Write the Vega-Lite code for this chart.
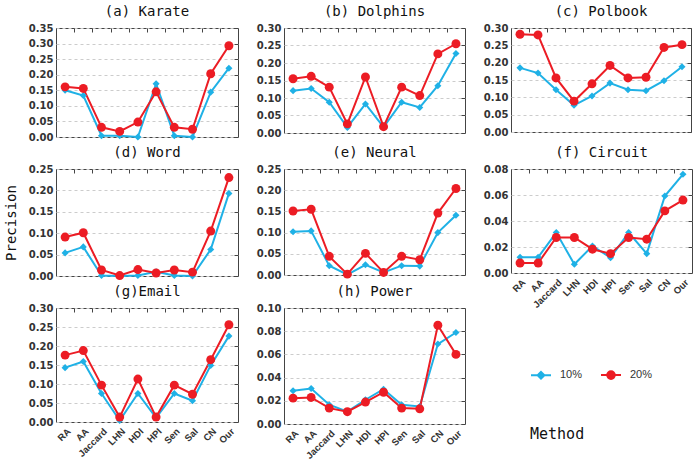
{
  "$schema": "https://vega.github.io/schema/vega-lite/v6.json",
  "padding": {"left": 3, "top": 4, "right": 5, "bottom": 2},
  "background": "white",
  "datasets": {
    "d": [
      {"net": "Karate", "series": "10%", "method": "RA", "value": 0.150},
      {"net": "Karate", "series": "10%", "method": "AA", "value": 0.133},
      {"net": "Karate", "series": "10%", "method": "Jaccard", "value": 0.004},
      {"net": "Karate", "series": "10%", "method": "LHN", "value": 0.004},
      {"net": "Karate", "series": "10%", "method": "HDI", "value": 0.0},
      {"net": "Karate", "series": "10%", "method": "HPI", "value": 0.171},
      {"net": "Karate", "series": "10%", "method": "Sen", "value": 0.004},
      {"net": "Karate", "series": "10%", "method": "Sal", "value": 0.0},
      {"net": "Karate", "series": "10%", "method": "CN", "value": 0.144},
      {"net": "Karate", "series": "10%", "method": "Our", "value": 0.221},
      {"net": "Karate", "series": "20%", "method": "RA", "value": 0.161},
      {"net": "Karate", "series": "20%", "method": "AA", "value": 0.156},
      {"net": "Karate", "series": "20%", "method": "Jaccard", "value": 0.031},
      {"net": "Karate", "series": "20%", "method": "LHN", "value": 0.018},
      {"net": "Karate", "series": "20%", "method": "HDI", "value": 0.048},
      {"net": "Karate", "series": "20%", "method": "HPI", "value": 0.145},
      {"net": "Karate", "series": "20%", "method": "Sen", "value": 0.031},
      {"net": "Karate", "series": "20%", "method": "Sal", "value": 0.025},
      {"net": "Karate", "series": "20%", "method": "CN", "value": 0.203},
      {"net": "Karate", "series": "20%", "method": "Our", "value": 0.293},

      {"net": "Dolphins", "series": "10%", "method": "RA", "value": 0.121},
      {"net": "Dolphins", "series": "10%", "method": "AA", "value": 0.127},
      {"net": "Dolphins", "series": "10%", "method": "Jaccard", "value": 0.088},
      {"net": "Dolphins", "series": "10%", "method": "LHN", "value": 0.016},
      {"net": "Dolphins", "series": "10%", "method": "HDI", "value": 0.083},
      {"net": "Dolphins", "series": "10%", "method": "HPI", "value": 0.017},
      {"net": "Dolphins", "series": "10%", "method": "Sen", "value": 0.088},
      {"net": "Dolphins", "series": "10%", "method": "Sal", "value": 0.073},
      {"net": "Dolphins", "series": "10%", "method": "CN", "value": 0.135},
      {"net": "Dolphins", "series": "10%", "method": "Our", "value": 0.227},
      {"net": "Dolphins", "series": "20%", "method": "RA", "value": 0.155},
      {"net": "Dolphins", "series": "20%", "method": "AA", "value": 0.162},
      {"net": "Dolphins", "series": "20%", "method": "Jaccard", "value": 0.131},
      {"net": "Dolphins", "series": "20%", "method": "LHN", "value": 0.026},
      {"net": "Dolphins", "series": "20%", "method": "HDI", "value": 0.160},
      {"net": "Dolphins", "series": "20%", "method": "HPI", "value": 0.018},
      {"net": "Dolphins", "series": "20%", "method": "Sen", "value": 0.131},
      {"net": "Dolphins", "series": "20%", "method": "Sal", "value": 0.107},
      {"net": "Dolphins", "series": "20%", "method": "CN", "value": 0.226},
      {"net": "Dolphins", "series": "20%", "method": "Our", "value": 0.255},

      {"net": "Polbook", "series": "10%", "method": "RA", "value": 0.185},
      {"net": "Polbook", "series": "10%", "method": "AA", "value": 0.170},
      {"net": "Polbook", "series": "10%", "method": "Jaccard", "value": 0.122},
      {"net": "Polbook", "series": "10%", "method": "LHN", "value": 0.077},
      {"net": "Polbook", "series": "10%", "method": "HDI", "value": 0.104},
      {"net": "Polbook", "series": "10%", "method": "HPI", "value": 0.141},
      {"net": "Polbook", "series": "10%", "method": "Sen", "value": 0.122},
      {"net": "Polbook", "series": "10%", "method": "Sal", "value": 0.119},
      {"net": "Polbook", "series": "10%", "method": "CN", "value": 0.148},
      {"net": "Polbook", "series": "10%", "method": "Our", "value": 0.188},
      {"net": "Polbook", "series": "20%", "method": "RA", "value": 0.282},
      {"net": "Polbook", "series": "20%", "method": "AA", "value": 0.280},
      {"net": "Polbook", "series": "20%", "method": "Jaccard", "value": 0.156},
      {"net": "Polbook", "series": "20%", "method": "LHN", "value": 0.089},
      {"net": "Polbook", "series": "20%", "method": "HDI", "value": 0.139},
      {"net": "Polbook", "series": "20%", "method": "HPI", "value": 0.192},
      {"net": "Polbook", "series": "20%", "method": "Sen", "value": 0.156},
      {"net": "Polbook", "series": "20%", "method": "Sal", "value": 0.158},
      {"net": "Polbook", "series": "20%", "method": "CN", "value": 0.244},
      {"net": "Polbook", "series": "20%", "method": "Our", "value": 0.252},

      {"net": "Word", "series": "10%", "method": "RA", "value": 0.054},
      {"net": "Word", "series": "10%", "method": "AA", "value": 0.068},
      {"net": "Word", "series": "10%", "method": "Jaccard", "value": 0.001},
      {"net": "Word", "series": "10%", "method": "LHN", "value": 0.0},
      {"net": "Word", "series": "10%", "method": "HDI", "value": 0.001},
      {"net": "Word", "series": "10%", "method": "HPI", "value": 0.010},
      {"net": "Word", "series": "10%", "method": "Sen", "value": 0.001},
      {"net": "Word", "series": "10%", "method": "Sal", "value": 0.0},
      {"net": "Word", "series": "10%", "method": "CN", "value": 0.062},
      {"net": "Word", "series": "10%", "method": "Our", "value": 0.193},
      {"net": "Word", "series": "20%", "method": "RA", "value": 0.091},
      {"net": "Word", "series": "20%", "method": "AA", "value": 0.101},
      {"net": "Word", "series": "20%", "method": "Jaccard", "value": 0.014},
      {"net": "Word", "series": "20%", "method": "LHN", "value": 0.001},
      {"net": "Word", "series": "20%", "method": "HDI", "value": 0.015},
      {"net": "Word", "series": "20%", "method": "HPI", "value": 0.007},
      {"net": "Word", "series": "20%", "method": "Sen", "value": 0.014},
      {"net": "Word", "series": "20%", "method": "Sal", "value": 0.009},
      {"net": "Word", "series": "20%", "method": "CN", "value": 0.105},
      {"net": "Word", "series": "20%", "method": "Our", "value": 0.230},

      {"net": "Neural", "series": "10%", "method": "RA", "value": 0.102},
      {"net": "Neural", "series": "10%", "method": "AA", "value": 0.104},
      {"net": "Neural", "series": "10%", "method": "Jaccard", "value": 0.022},
      {"net": "Neural", "series": "10%", "method": "LHN", "value": 0.001},
      {"net": "Neural", "series": "10%", "method": "HDI", "value": 0.024},
      {"net": "Neural", "series": "10%", "method": "HPI", "value": 0.006},
      {"net": "Neural", "series": "10%", "method": "Sen", "value": 0.022},
      {"net": "Neural", "series": "10%", "method": "Sal", "value": 0.021},
      {"net": "Neural", "series": "10%", "method": "CN", "value": 0.100},
      {"net": "Neural", "series": "10%", "method": "Our", "value": 0.141},
      {"net": "Neural", "series": "20%", "method": "RA", "value": 0.151},
      {"net": "Neural", "series": "20%", "method": "AA", "value": 0.155},
      {"net": "Neural", "series": "20%", "method": "Jaccard", "value": 0.044},
      {"net": "Neural", "series": "20%", "method": "LHN", "value": 0.002},
      {"net": "Neural", "series": "20%", "method": "HDI", "value": 0.051},
      {"net": "Neural", "series": "20%", "method": "HPI", "value": 0.006},
      {"net": "Neural", "series": "20%", "method": "Sen", "value": 0.044},
      {"net": "Neural", "series": "20%", "method": "Sal", "value": 0.036},
      {"net": "Neural", "series": "20%", "method": "CN", "value": 0.146},
      {"net": "Neural", "series": "20%", "method": "Our", "value": 0.204},

      {"net": "Circuit", "series": "10%", "method": "RA", "value": 0.0121},
      {"net": "Circuit", "series": "10%", "method": "AA", "value": 0.0121},
      {"net": "Circuit", "series": "10%", "method": "Jaccard", "value": 0.0311},
      {"net": "Circuit", "series": "10%", "method": "LHN", "value": 0.0067},
      {"net": "Circuit", "series": "10%", "method": "HDI", "value": 0.0208},
      {"net": "Circuit", "series": "10%", "method": "HPI", "value": 0.0118},
      {"net": "Circuit", "series": "10%", "method": "Sen", "value": 0.0311},
      {"net": "Circuit", "series": "10%", "method": "Sal", "value": 0.0149},
      {"net": "Circuit", "series": "10%", "method": "CN", "value": 0.0592},
      {"net": "Circuit", "series": "10%", "method": "Our", "value": 0.0759},
      {"net": "Circuit", "series": "20%", "method": "RA", "value": 0.0077},
      {"net": "Circuit", "series": "20%", "method": "AA", "value": 0.0077},
      {"net": "Circuit", "series": "20%", "method": "Jaccard", "value": 0.0273},
      {"net": "Circuit", "series": "20%", "method": "LHN", "value": 0.0273},
      {"net": "Circuit", "series": "20%", "method": "HDI", "value": 0.0183},
      {"net": "Circuit", "series": "20%", "method": "HPI", "value": 0.0149},
      {"net": "Circuit", "series": "20%", "method": "Sen", "value": 0.0273},
      {"net": "Circuit", "series": "20%", "method": "Sal", "value": 0.0260},
      {"net": "Circuit", "series": "20%", "method": "CN", "value": 0.0478},
      {"net": "Circuit", "series": "20%", "method": "Our", "value": 0.0561},

      {"net": "Email", "series": "10%", "method": "RA", "value": 0.143},
      {"net": "Email", "series": "10%", "method": "AA", "value": 0.159},
      {"net": "Email", "series": "10%", "method": "Jaccard", "value": 0.075},
      {"net": "Email", "series": "10%", "method": "LHN", "value": 0.004},
      {"net": "Email", "series": "10%", "method": "HDI", "value": 0.075},
      {"net": "Email", "series": "10%", "method": "HPI", "value": 0.011},
      {"net": "Email", "series": "10%", "method": "Sen", "value": 0.075},
      {"net": "Email", "series": "10%", "method": "Sal", "value": 0.056},
      {"net": "Email", "series": "10%", "method": "CN", "value": 0.149},
      {"net": "Email", "series": "10%", "method": "Our", "value": 0.226},
      {"net": "Email", "series": "20%", "method": "RA", "value": 0.176},
      {"net": "Email", "series": "20%", "method": "AA", "value": 0.188},
      {"net": "Email", "series": "20%", "method": "Jaccard", "value": 0.097},
      {"net": "Email", "series": "20%", "method": "LHN", "value": 0.013},
      {"net": "Email", "series": "20%", "method": "HDI", "value": 0.113},
      {"net": "Email", "series": "20%", "method": "HPI", "value": 0.013},
      {"net": "Email", "series": "20%", "method": "Sen", "value": 0.097},
      {"net": "Email", "series": "20%", "method": "Sal", "value": 0.073},
      {"net": "Email", "series": "20%", "method": "CN", "value": 0.164},
      {"net": "Email", "series": "20%", "method": "Our", "value": 0.256},

      {"net": "Power", "series": "10%", "method": "RA", "value": 0.0286},
      {"net": "Power", "series": "10%", "method": "AA", "value": 0.0306},
      {"net": "Power", "series": "10%", "method": "Jaccard", "value": 0.0166},
      {"net": "Power", "series": "10%", "method": "LHN", "value": 0.0106},
      {"net": "Power", "series": "10%", "method": "HDI", "value": 0.0209},
      {"net": "Power", "series": "10%", "method": "HPI", "value": 0.0300},
      {"net": "Power", "series": "10%", "method": "Sen", "value": 0.0166},
      {"net": "Power", "series": "10%", "method": "Sal", "value": 0.0151},
      {"net": "Power", "series": "10%", "method": "CN", "value": 0.0689},
      {"net": "Power", "series": "10%", "method": "Our", "value": 0.0789},
      {"net": "Power", "series": "20%", "method": "RA", "value": 0.0223},
      {"net": "Power", "series": "20%", "method": "AA", "value": 0.0229},
      {"net": "Power", "series": "20%", "method": "Jaccard", "value": 0.0137},
      {"net": "Power", "series": "20%", "method": "LHN", "value": 0.0106},
      {"net": "Power", "series": "20%", "method": "HDI", "value": 0.0189},
      {"net": "Power", "series": "20%", "method": "HPI", "value": 0.0274},
      {"net": "Power", "series": "20%", "method": "Sen", "value": 0.0137},
      {"net": "Power", "series": "20%", "method": "Sal", "value": 0.0131},
      {"net": "Power", "series": "20%", "method": "CN", "value": 0.0851},
      {"net": "Power", "series": "20%", "method": "Our", "value": 0.0600}
    ]
  },
  "data": {"name": "d"},
  "columns": 3,
  "bounds": "flush",
  "spacing": {"row": 32, "column": 46},
  "concat": [
    {
      "width": 182, "height": 109, "title": "(a) Karate",
      "transform": [{"filter": "datum.net === 'Karate'"}],
      "encoding": {
        "x": {"field": "method", "type": "nominal", "sort": ["RA","AA","Jaccard","LHN","HDI","HPI","Sen","Sal","CN","Our"], "scale": {"type": "point", "padding": 0.5}},
        "y": {"field": "value", "type": "quantitative", "scale": {"domain": [0, 0.35]}}
      },
      "layer": [
        {"mark": {"type": "line", "strokeWidth": 2},
         "encoding": {
           "x": {"field": "method", "type": "nominal", "sort": ["RA","AA","Jaccard","LHN","HDI","HPI","Sen","Sal","CN","Our"], "axis": {"orient": "bottom", "labels": false, "title": null}},
           "y": {"field": "value", "type": "quantitative", "axis": {"values": [0,0.05,0.1,0.15,0.2,0.25,0.3,0.35], "format": ".2f", "title": null}},
           "color": {"field": "series", "type": "nominal", "title": "Method",
             "scale": {"domain": ["10%", "20%"], "range": ["#1fb1e6", "#ec1c24"]},
             "legend": {
               "encode": {"symbols": {"update": {
                 "shape": {"signal": "datum.value === '10%' ? 'M-1,0H1M0,-0.34L0.34,0L0,0.34L-0.34,0Z' : 'M-1,0H1M-0.38,0A0.38,0.38 0 1,1 0.38,0A0.38,0.38 0 1,1 -0.38,0Z'"},
                 "fill": {"signal": "scale('color', datum.value)"},
                 "stroke": {"signal": "scale('color', datum.value)"},
                 "strokeWidth": {"value": 2},
                 "opacity": {"value": 1}
               }}}
             }}
         }},
        {"transform": [{"filter": "datum.series === '10%'"}],
         "mark": {"type": "point", "filled": true, "opacity": 1, "shape": "diamond", "size": 50, "color": "#1fb1e6"},
         "encoding": {
           "x": {"field": "method", "type": "nominal", "sort": ["RA","AA","Jaccard","LHN","HDI","HPI","Sen","Sal","CN","Our"], "axis": {"orient": "top", "labels": false, "tickOffset": -9.1, "title": null}},
           "y": {"field": "value", "type": "quantitative", "axis": {"orient": "right", "values": [0,0.05,0.1,0.15,0.2,0.25,0.3,0.35], "labels": false, "title": null}}
         }},
        {"transform": [{"filter": "datum.series === '20%'"}],
         "mark": {"type": "point", "filled": true, "opacity": 1, "shape": "circle", "size": 80, "color": "#ec1c24"},
         "encoding": {
           "x": {"field": "method", "type": "nominal", "sort": ["RA","AA","Jaccard","LHN","HDI","HPI","Sen","Sal","CN","Our"], "axis": null},
           "y": {"field": "value", "type": "quantitative", "axis": null}
         }}
      ],
      "resolve": {"axis": {"x": "independent", "y": "independent"}}
    },
    {
      "width": 181, "height": 105, "title": "(b) Dolphins",
      "transform": [{"filter": "datum.net === 'Dolphins'"}],
      "encoding": {
        "x": {"field": "method", "type": "nominal", "sort": ["RA","AA","Jaccard","LHN","HDI","HPI","Sen","Sal","CN","Our"], "scale": {"type": "point", "padding": 0.5}},
        "y": {"field": "value", "type": "quantitative", "scale": {"domain": [0, 0.3]}}
      },
      "layer": [
        {"mark": {"type": "line", "strokeWidth": 2},
         "encoding": {
           "x": {"field": "method", "type": "nominal", "sort": ["RA","AA","Jaccard","LHN","HDI","HPI","Sen","Sal","CN","Our"], "axis": {"orient": "bottom", "labels": false, "title": null}},
           "y": {"field": "value", "type": "quantitative", "axis": {"values": [0,0.05,0.1,0.15,0.2,0.25,0.3], "format": ".2f", "title": null}},
           "color": {"field": "series", "type": "nominal", "title": "Method"}
         }},
        {"transform": [{"filter": "datum.series === '10%'"}],
         "mark": {"type": "point", "filled": true, "opacity": 1, "shape": "diamond", "size": 50, "color": "#1fb1e6"},
         "encoding": {
           "x": {"field": "method", "type": "nominal", "sort": ["RA","AA","Jaccard","LHN","HDI","HPI","Sen","Sal","CN","Our"], "axis": {"orient": "top", "labels": false, "tickOffset": -9.05, "title": null}},
           "y": {"field": "value", "type": "quantitative", "axis": {"orient": "right", "values": [0,0.05,0.1,0.15,0.2,0.25,0.3], "labels": false, "title": null}}
         }},
        {"transform": [{"filter": "datum.series === '20%'"}],
         "mark": {"type": "point", "filled": true, "opacity": 1, "shape": "circle", "size": 80, "color": "#ec1c24"},
         "encoding": {
           "x": {"field": "method", "type": "nominal", "sort": ["RA","AA","Jaccard","LHN","HDI","HPI","Sen","Sal","CN","Our"], "axis": null},
           "y": {"field": "value", "type": "quantitative", "axis": null}
         }}
      ],
      "resolve": {"axis": {"x": "independent", "y": "independent"}}
    },
    {
      "width": 180, "height": 104, "title": "(c) Polbook",
      "transform": [{"filter": "datum.net === 'Polbook'"}],
      "encoding": {
        "x": {"field": "method", "type": "nominal", "sort": ["RA","AA","Jaccard","LHN","HDI","HPI","Sen","Sal","CN","Our"], "scale": {"type": "point", "padding": 0.5}},
        "y": {"field": "value", "type": "quantitative", "scale": {"domain": [0, 0.3]}}
      },
      "layer": [
        {"mark": {"type": "line", "strokeWidth": 2},
         "encoding": {
           "x": {"field": "method", "type": "nominal", "sort": ["RA","AA","Jaccard","LHN","HDI","HPI","Sen","Sal","CN","Our"], "axis": {"orient": "bottom", "labels": false, "title": null}},
           "y": {"field": "value", "type": "quantitative", "axis": {"values": [0,0.05,0.1,0.15,0.2,0.25,0.3], "format": ".2f", "title": null}},
           "color": {"field": "series", "type": "nominal", "title": "Method"}
         }},
        {"transform": [{"filter": "datum.series === '10%'"}],
         "mark": {"type": "point", "filled": true, "opacity": 1, "shape": "diamond", "size": 50, "color": "#1fb1e6"},
         "encoding": {
           "x": {"field": "method", "type": "nominal", "sort": ["RA","AA","Jaccard","LHN","HDI","HPI","Sen","Sal","CN","Our"], "axis": {"orient": "top", "labels": false, "tickOffset": -9, "title": null}},
           "y": {"field": "value", "type": "quantitative", "axis": {"orient": "right", "values": [0,0.05,0.1,0.15,0.2,0.25,0.3], "labels": false, "title": null}}
         }},
        {"transform": [{"filter": "datum.series === '20%'"}],
         "mark": {"type": "point", "filled": true, "opacity": 1, "shape": "circle", "size": 80, "color": "#ec1c24"},
         "encoding": {
           "x": {"field": "method", "type": "nominal", "sort": ["RA","AA","Jaccard","LHN","HDI","HPI","Sen","Sal","CN","Our"], "axis": null},
           "y": {"field": "value", "type": "quantitative", "axis": null}
         }}
      ],
      "resolve": {"axis": {"x": "independent", "y": "independent"}}
    },
    {
      "width": 182, "height": 107, "title": "(d) Word",
      "transform": [{"filter": "datum.net === 'Word'"}],
      "encoding": {
        "x": {"field": "method", "type": "nominal", "sort": ["RA","AA","Jaccard","LHN","HDI","HPI","Sen","Sal","CN","Our"], "scale": {"type": "point", "padding": 0.5}},
        "y": {"field": "value", "type": "quantitative", "scale": {"domain": [0, 0.25]}}
      },
      "layer": [
        {"mark": {"type": "line", "strokeWidth": 2},
         "encoding": {
           "x": {"field": "method", "type": "nominal", "sort": ["RA","AA","Jaccard","LHN","HDI","HPI","Sen","Sal","CN","Our"], "axis": {"orient": "bottom", "labels": false, "title": null}},
           "y": {"field": "value", "type": "quantitative", "axis": {"values": [0,0.05,0.1,0.15,0.2,0.25], "format": ".2f", "title": "Precision"}},
           "color": {"field": "series", "type": "nominal", "title": "Method"}
         }},
        {"transform": [{"filter": "datum.series === '10%'"}],
         "mark": {"type": "point", "filled": true, "opacity": 1, "shape": "diamond", "size": 50, "color": "#1fb1e6"},
         "encoding": {
           "x": {"field": "method", "type": "nominal", "sort": ["RA","AA","Jaccard","LHN","HDI","HPI","Sen","Sal","CN","Our"], "axis": {"orient": "top", "labels": false, "tickOffset": -9.1, "title": null}},
           "y": {"field": "value", "type": "quantitative", "axis": {"orient": "right", "values": [0,0.05,0.1,0.15,0.2,0.25], "labels": false, "title": null}}
         }},
        {"transform": [{"filter": "datum.series === '20%'"}],
         "mark": {"type": "point", "filled": true, "opacity": 1, "shape": "circle", "size": 80, "color": "#ec1c24"},
         "encoding": {
           "x": {"field": "method", "type": "nominal", "sort": ["RA","AA","Jaccard","LHN","HDI","HPI","Sen","Sal","CN","Our"], "axis": null},
           "y": {"field": "value", "type": "quantitative", "axis": null}
         }}
      ],
      "resolve": {"axis": {"x": "independent", "y": "independent"}}
    },
    {
      "width": 181, "height": 106, "title": "(e) Neural",
      "transform": [{"filter": "datum.net === 'Neural'"}],
      "encoding": {
        "x": {"field": "method", "type": "nominal", "sort": ["RA","AA","Jaccard","LHN","HDI","HPI","Sen","Sal","CN","Our"], "scale": {"type": "point", "padding": 0.5}},
        "y": {"field": "value", "type": "quantitative", "scale": {"domain": [0, 0.25]}}
      },
      "layer": [
        {"mark": {"type": "line", "strokeWidth": 2},
         "encoding": {
           "x": {"field": "method", "type": "nominal", "sort": ["RA","AA","Jaccard","LHN","HDI","HPI","Sen","Sal","CN","Our"], "axis": {"orient": "bottom", "labels": false, "title": null}},
           "y": {"field": "value", "type": "quantitative", "axis": {"values": [0,0.05,0.1,0.15,0.2,0.25], "format": ".2f", "title": null}},
           "color": {"field": "series", "type": "nominal", "title": "Method"}
         }},
        {"transform": [{"filter": "datum.series === '10%'"}],
         "mark": {"type": "point", "filled": true, "opacity": 1, "shape": "diamond", "size": 50, "color": "#1fb1e6"},
         "encoding": {
           "x": {"field": "method", "type": "nominal", "sort": ["RA","AA","Jaccard","LHN","HDI","HPI","Sen","Sal","CN","Our"], "axis": {"orient": "top", "labels": false, "tickOffset": -9.05, "title": null}},
           "y": {"field": "value", "type": "quantitative", "axis": {"orient": "right", "values": [0,0.05,0.1,0.15,0.2,0.25], "labels": false, "title": null}}
         }},
        {"transform": [{"filter": "datum.series === '20%'"}],
         "mark": {"type": "point", "filled": true, "opacity": 1, "shape": "circle", "size": 80, "color": "#ec1c24"},
         "encoding": {
           "x": {"field": "method", "type": "nominal", "sort": ["RA","AA","Jaccard","LHN","HDI","HPI","Sen","Sal","CN","Our"], "axis": null},
           "y": {"field": "value", "type": "quantitative", "axis": null}
         }}
      ],
      "resolve": {"axis": {"x": "independent", "y": "independent"}}
    },
    {
      "width": 181, "height": 104, "title": "(f) Circuit",
      "transform": [{"filter": "datum.net === 'Circuit'"}],
      "encoding": {
        "x": {"field": "method", "type": "nominal", "sort": ["RA","AA","Jaccard","LHN","HDI","HPI","Sen","Sal","CN","Our"], "scale": {"type": "point", "padding": 0.5}},
        "y": {"field": "value", "type": "quantitative", "scale": {"domain": [0, 0.08]}}
      },
      "layer": [
        {"mark": {"type": "line", "strokeWidth": 2},
         "encoding": {
           "x": {"field": "method", "type": "nominal", "sort": ["RA","AA","Jaccard","LHN","HDI","HPI","Sen","Sal","CN","Our"], "axis": {"orient": "bottom", "labels": true, "title": null, "labelAngle": -45}},
           "y": {"field": "value", "type": "quantitative", "axis": {"values": [0,0.02,0.04,0.06,0.08], "format": ".2f", "title": null}},
           "color": {"field": "series", "type": "nominal", "title": "Method"}
         }},
        {"transform": [{"filter": "datum.series === '10%'"}],
         "mark": {"type": "point", "filled": true, "opacity": 1, "shape": "diamond", "size": 50, "color": "#1fb1e6"},
         "encoding": {
           "x": {"field": "method", "type": "nominal", "sort": ["RA","AA","Jaccard","LHN","HDI","HPI","Sen","Sal","CN","Our"], "axis": {"orient": "top", "labels": false, "tickOffset": -9.05, "title": null}},
           "y": {"field": "value", "type": "quantitative", "axis": {"orient": "right", "values": [0,0.02,0.04,0.06,0.08], "labels": false, "title": null}}
         }},
        {"transform": [{"filter": "datum.series === '20%'"}],
         "mark": {"type": "point", "filled": true, "opacity": 1, "shape": "circle", "size": 80, "color": "#ec1c24"},
         "encoding": {
           "x": {"field": "method", "type": "nominal", "sort": ["RA","AA","Jaccard","LHN","HDI","HPI","Sen","Sal","CN","Our"], "axis": null},
           "y": {"field": "value", "type": "quantitative", "axis": null}
         }}
      ],
      "resolve": {"axis": {"x": "independent", "y": "independent"}}
    },
    {
      "width": 182, "height": 114, "title": "(g)Email",
      "transform": [{"filter": "datum.net === 'Email'"}],
      "encoding": {
        "x": {"field": "method", "type": "nominal", "sort": ["RA","AA","Jaccard","LHN","HDI","HPI","Sen","Sal","CN","Our"], "scale": {"type": "point", "padding": 0.5}},
        "y": {"field": "value", "type": "quantitative", "scale": {"domain": [0, 0.3]}}
      },
      "layer": [
        {"mark": {"type": "line", "strokeWidth": 2},
         "encoding": {
           "x": {"field": "method", "type": "nominal", "sort": ["RA","AA","Jaccard","LHN","HDI","HPI","Sen","Sal","CN","Our"], "axis": {"orient": "bottom", "labels": true, "title": null, "labelAngle": -45}},
           "y": {"field": "value", "type": "quantitative", "axis": {"values": [0,0.05,0.1,0.15,0.2,0.25,0.3], "format": ".2f", "title": null}},
           "color": {"field": "series", "type": "nominal", "title": "Method"}
         }},
        {"transform": [{"filter": "datum.series === '10%'"}],
         "mark": {"type": "point", "filled": true, "opacity": 1, "shape": "diamond", "size": 50, "color": "#1fb1e6"},
         "encoding": {
           "x": {"field": "method", "type": "nominal", "sort": ["RA","AA","Jaccard","LHN","HDI","HPI","Sen","Sal","CN","Our"], "axis": {"orient": "top", "labels": false, "tickOffset": -9.1, "title": null}},
           "y": {"field": "value", "type": "quantitative", "axis": {"orient": "right", "values": [0,0.05,0.1,0.15,0.2,0.25,0.3], "labels": false, "title": null}}
         }},
        {"transform": [{"filter": "datum.series === '20%'"}],
         "mark": {"type": "point", "filled": true, "opacity": 1, "shape": "circle", "size": 80, "color": "#ec1c24"},
         "encoding": {
           "x": {"field": "method", "type": "nominal", "sort": ["RA","AA","Jaccard","LHN","HDI","HPI","Sen","Sal","CN","Our"], "axis": null},
           "y": {"field": "value", "type": "quantitative", "axis": null}
         }}
      ],
      "resolve": {"axis": {"x": "independent", "y": "independent"}}
    },
    {
      "width": 181, "height": 116, "title": "(h)  Power",
      "transform": [{"filter": "datum.net === 'Power'"}],
      "encoding": {
        "x": {"field": "method", "type": "nominal", "sort": ["RA","AA","Jaccard","LHN","HDI","HPI","Sen","Sal","CN","Our"], "scale": {"type": "point", "padding": 0.5}},
        "y": {"field": "value", "type": "quantitative", "scale": {"domain": [0, 0.1]}}
      },
      "layer": [
        {"mark": {"type": "line", "strokeWidth": 2},
         "encoding": {
           "x": {"field": "method", "type": "nominal", "sort": ["RA","AA","Jaccard","LHN","HDI","HPI","Sen","Sal","CN","Our"], "axis": {"orient": "bottom", "labels": true, "title": null, "labelAngle": -45}},
           "y": {"field": "value", "type": "quantitative", "axis": {"values": [0,0.02,0.04,0.06,0.08,0.1], "format": ".2f", "title": null}},
           "color": {"field": "series", "type": "nominal", "title": "Method"}
         }},
        {"transform": [{"filter": "datum.series === '10%'"}],
         "mark": {"type": "point", "filled": true, "opacity": 1, "shape": "diamond", "size": 50, "color": "#1fb1e6"},
         "encoding": {
           "x": {"field": "method", "type": "nominal", "sort": ["RA","AA","Jaccard","LHN","HDI","HPI","Sen","Sal","CN","Our"], "axis": {"orient": "top", "labels": false, "tickOffset": -9.05, "title": null}},
           "y": {"field": "value", "type": "quantitative", "axis": {"orient": "right", "values": [0,0.02,0.04,0.06,0.08,0.1], "labels": false, "title": null}}
         }},
        {"transform": [{"filter": "datum.series === '20%'"}],
         "mark": {"type": "point", "filled": true, "opacity": 1, "shape": "circle", "size": 80, "color": "#ec1c24"},
         "encoding": {
           "x": {"field": "method", "type": "nominal", "sort": ["RA","AA","Jaccard","LHN","HDI","HPI","Sen","Sal","CN","Our"], "axis": null},
           "y": {"field": "value", "type": "quantitative", "axis": null}
         }}
      ],
      "resolve": {"axis": {"x": "independent", "y": "independent"}}
    }
  ],
  "config": {
    "view": {"stroke": "#444444", "strokeWidth": 1},
    "title": {"font": "DejaVu Sans Mono", "fontSize": 14, "fontWeight": "normal", "color": "#111111", "offset": 4},
    "axis": {
      "labelFont": "DejaVu Sans", "labelFontSize": 10, "labelFontWeight": "bold", "labelColor": "#333333",
      "gridColor": "#cccccc", "gridDash": [3, 3], "gridWidth": 1,
      "tickColor": "#444444", "ticks": false, "domain": false, "labelPadding": 3,
      "titleFont": "DejaVu Sans Mono", "titleFontSize": 14, "titleFontWeight": "normal", "titleColor": "#111111", "titlePadding": 10
    },
    "axisBottom": {"labelFont": "Liberation Sans", "labelFontSize": 9.5, "labelPadding": 4},
    "axisRight": {"ticks": true, "tickSize": -4, "grid": false, "labelPadding": 0},
    "axisTop": {"ticks": true, "tickSize": -4, "grid": false, "labelPadding": 0},
    "legend": {
      "orient": "none", "legendX": 474, "legendY": 336, "direction": "horizontal",
      "titleOrient": "bottom", "titleAnchor": "start", "titlePadding": 44,
      "titleFont": "DejaVu Sans Mono", "titleFontSize": 15, "titleFontWeight": "normal", "titleColor": "#111111",
      "labelFont": "Liberation Sans", "labelFontSize": 11, "labelColor": "#333333",
      "symbolSize": 400, "symbolStrokeWidth": 2, "labelOffset": 8, "columnPadding": 14
    }
  }
}
